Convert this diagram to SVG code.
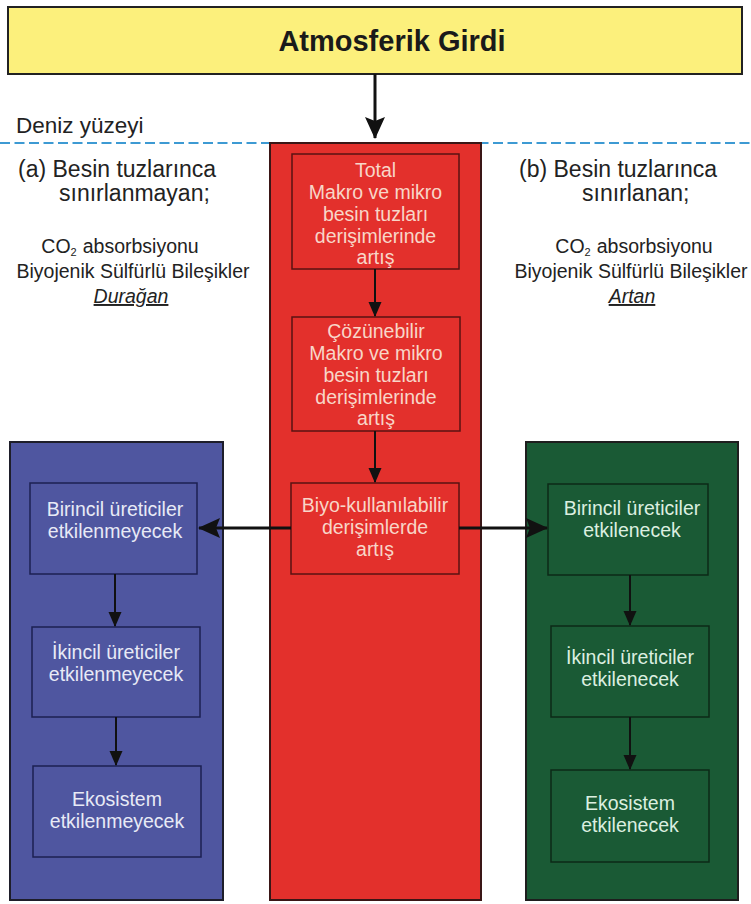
<svg xmlns="http://www.w3.org/2000/svg" width="751" height="904" viewBox="0 0 751 904">
<defs>
<style>
text{font-family:"Liberation Sans",Arial,Helvetica,sans-serif}
.title{font-size:29px;font-weight:bold;fill:#1a1a1a;text-anchor:middle}
.dz{font-size:22.5px;fill:#222}
.hd{font-size:23px;fill:#222}
.sm{font-size:19.5px;fill:#222;text-anchor:middle}
.rt{font-size:19.5px;fill:#f8d6c8;text-anchor:middle}
.bt{font-size:19.5px;fill:#e8eaf6;text-anchor:middle}
.gt{font-size:19.5px;fill:#dcefe0;text-anchor:middle}
.ib-r{fill:none;stroke:#5a1212;stroke-width:1.5}
.ib-b{fill:none;stroke:#1c2152;stroke-width:1.5}
.ib-g{fill:none;stroke:#0c2a17;stroke-width:1.5}
.cn{stroke:#111;fill:none}
</style>
<marker id="ahS" markerWidth="15" markerHeight="15" viewBox="0 0 15 15" refX="14" refY="7.5" orient="auto" markerUnits="userSpaceOnUse">
<path d="M0,1 L15,7.5 L0,14 Z" fill="#111"/>
</marker>
<marker id="ahL" markerWidth="22" markerHeight="20" viewBox="0 0 22 20" refX="21" refY="10" orient="auto" markerUnits="userSpaceOnUse">
<path d="M0,0 L22,10 L0,20 L4,10 Z" fill="#111"/>
</marker>
</defs>

<g id="atmosferik-girdi">
<rect x="8" y="7" width="734" height="67" fill="#fcf07c" stroke="#222" stroke-width="2"/>
<text class="title" x="392" y="51">Atmosferik Girdi</text>
</g>

<g id="deniz-yuzeyi">
<text class="dz" x="16" y="133">Deniz yüzeyi</text>
<line x1="0" y1="143" x2="751" y2="143" stroke="#3d9ad3" stroke-width="2" stroke-dasharray="10 4.5"/>
</g>

<g id="label-a">
<text class="hd" x="18" y="177">(a) Besin tuzlarınca</text>
<text class="hd" x="59" y="201">sınırlanmayan;</text>
<text class="sm" x="120" y="253">CO<tspan font-size="11" dy="3">2</tspan><tspan dx="6" dy="-3">absorbsiyonu</tspan></text>
<text class="sm" x="133" y="278">Biyojenik Sülfürlü Bileşikler</text>
<text class="sm" x="131" y="303" font-style="italic" text-decoration="underline">Durağan</text>
</g>

<g id="label-b">
<text class="hd" x="519" y="177">(b) Besin tuzlarınca</text>
<text class="hd" x="582" y="201">sınırlanan;</text>
<text class="sm" x="634" y="253">CO<tspan font-size="11" dy="3">2</tspan><tspan dx="6" dy="-3">absorbsiyonu</tspan></text>
<text class="sm" x="631" y="278">Biyojenik Sülfürlü Bileşikler</text>
<text class="sm" x="632" y="303" font-style="italic" text-decoration="underline">Artan</text>
</g>

<g id="red-column">
<rect x="270" y="143" width="211" height="757" fill="#e3302c" stroke="#3a1616" stroke-width="2"/>
</g>
<g id="total">
<rect class="ib-r" x="292" y="154" width="167" height="115"/>
<text class="rt" x="375.5" y="177">Total</text>
<text class="rt" x="375.5" y="199">Makro ve mikro</text>
<text class="rt" x="375.5" y="221">besin tuzları</text>
<text class="rt" x="375.5" y="243">derişimlerinde</text>
<text class="rt" x="375.5" y="264">artış</text>
</g>
<g id="cozunebilir">
<rect class="ib-r" x="292" y="317" width="168" height="114"/>
<text class="rt" x="376" y="338">Çözünebilir</text>
<text class="rt" x="376" y="360">Makro ve mikro</text>
<text class="rt" x="376" y="382">besin tuzları</text>
<text class="rt" x="376" y="404">derişimlerinde</text>
<text class="rt" x="376" y="425">artış</text>
</g>
<g id="biyo">
<rect class="ib-r" x="291" y="483" width="168" height="91"/>
<text class="rt" x="375" y="512">Biyo-kullanılabilir</text>
<text class="rt" x="375" y="534">derişimlerde</text>
<text class="rt" x="375" y="556">artış</text>
</g>

<g id="blue-column">
<rect x="10" y="442" width="213" height="458" fill="#4f56a0" stroke="#1e1e2a" stroke-width="2"/>
</g>
<g id="blue-1">
<rect class="ib-b" x="30" y="483" width="167" height="91"/>
<text class="bt" x="115" y="516">Birincil üreticiler</text>
<text class="bt" x="115" y="538">etkilenmeyecek</text>
</g>
<g id="blue-2">
<rect class="ib-b" x="32" y="627" width="168" height="90"/>
<text class="bt" x="116" y="659">İkincil üreticiler</text>
<text class="bt" x="116" y="681">etkilenmeyecek</text>
</g>
<g id="blue-3">
<rect class="ib-b" x="33" y="766" width="168" height="91"/>
<text class="bt" x="117" y="806">Ekosistem</text>
<text class="bt" x="117" y="828">etkilenmeyecek</text>
</g>

<g id="green-column">
<rect x="526" y="442" width="212" height="458" fill="#1a5a35" stroke="#1e1e1e" stroke-width="2"/>
</g>
<g id="green-1">
<rect class="ib-g" x="548" y="484" width="160" height="91"/>
<text class="gt" x="632" y="515">Birincil üreticiler</text>
<text class="gt" x="632" y="537">etkilenecek</text>
</g>
<g id="green-2">
<rect class="ib-g" x="551" y="626" width="158" height="91"/>
<text class="gt" x="630" y="664">İkincil üreticiler</text>
<text class="gt" x="630" y="686">etkilenecek</text>
</g>
<g id="green-3">
<rect class="ib-g" x="551" y="770" width="158" height="92"/>
<text class="gt" x="630" y="810">Ekosistem</text>
<text class="gt" x="630" y="832">etkilenecek</text>
</g>

<g id="connectors">
<line class="cn" x1="375" y1="74" x2="375" y2="138" stroke-width="3" marker-end="url(#ahL)"/>
<line class="cn" x1="375" y1="269" x2="375" y2="316" stroke-width="2" marker-end="url(#ahS)"/>
<line class="cn" x1="375" y1="431" x2="375" y2="482" stroke-width="2" marker-end="url(#ahS)"/>
<line class="cn" x1="291" y1="528" x2="199" y2="528" stroke-width="3" marker-end="url(#ahL)"/>
<line class="cn" x1="459" y1="528" x2="547" y2="528" stroke-width="3" marker-end="url(#ahL)"/>
<line class="cn" x1="115" y1="574" x2="115" y2="626" stroke-width="2" marker-end="url(#ahS)"/>
<line class="cn" x1="116" y1="717" x2="116" y2="765" stroke-width="2" marker-end="url(#ahS)"/>
<line class="cn" x1="630" y1="575" x2="630" y2="625" stroke-width="2" marker-end="url(#ahS)"/>
<line class="cn" x1="630" y1="717" x2="630" y2="769" stroke-width="2" marker-end="url(#ahS)"/>
</g>
</svg>
